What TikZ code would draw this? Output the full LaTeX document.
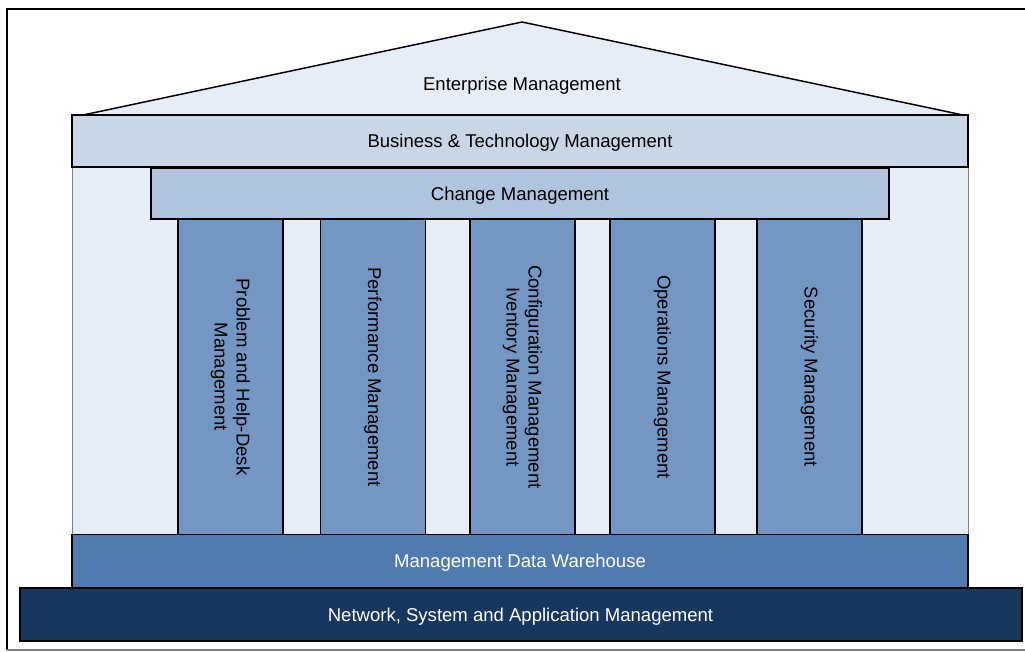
\documentclass[tikz,border=0pt]{standalone}
\usepackage{fontspec}
\setmainfont{Liberation Sans}
\usetikzlibrary{positioning}
\definecolor{roofblue}{HTML}{E6EDF7}
\definecolor{bizblue}{HTML}{C8D6E6}
\definecolor{changeblue}{HTML}{B1C4DD}
\definecolor{pillarblue}{HTML}{7397C2}
\definecolor{wareblue}{HTML}{4F7BAE}
\definecolor{netblue}{HTML}{18375E}
\begin{document}
\begin{tikzpicture}[x=0.75pt,y=-0.75pt,
  slab/.style={draw=black,line width=1.1pt,inner sep=0pt,align=center,
    font=\fontsize{13.9}{16.5}\selectfont},
  beam/.style={slab,text depth=0pt,minimum height=52*0.75pt},
  pillar/.style={slab,fill=pillarblue,rotate=-90,
    minimum width=316*0.75pt,minimum height=105*0.75pt}]
\useasboundingbox (0,0) rectangle (1025,652);
% frame
\draw[line width=1.5pt] (1025,9) -- (7,9) -- (7,650);
\draw[gray,line width=1.1pt] (7,650) -- (1025,650);
% roof and back wall
\draw[fill=roofblue,line width=1.1pt] (83,115) -- (522,22) -- (963,115) -- cycle;
\node[font=\fontsize{13.9}{16.5}\selectfont] (ent) at (522,86) {Enterprise Management};
\draw[gray,fill=roofblue,line width=0.6pt] (72,167) rectangle (968,535);
% beams
\node[beam,fill=bizblue,minimum width=896*0.75pt]
  (btm) at (520,141) {Business \& Technology Management};
\node[beam,fill=changeblue,minimum width=738*0.75pt,minimum height=51*0.75pt]
  (chg) at (520,193.5) {Change Management};
% pillars
\node[pillar] (prob) at (230.5,377) {Problem and Help-Desk\\Management};
\node[pillar] (perf) at (373,377) {Performance Management};
\node[pillar] (conf) at (522.5,377) {Configuration Management\\Iventory Management};
\node[pillar] (oper) at (662.5,377) {Operations Management};
\node[pillar] (secu) at (809.5,377) {Security Management};
% base
\node[beam,fill=wareblue,text=white,minimum width=896*0.75pt,minimum height=53*0.75pt]
  (mdw) at (520,561) {Management Data Warehouse};
\node[beam,fill=netblue,text=white,line width=1.5pt,minimum width=1002*0.75pt,minimum height=53*0.75pt]
  (nsam) at (520.5,614.5) {Network, System and Application Management};
\end{tikzpicture}
\end{document}
